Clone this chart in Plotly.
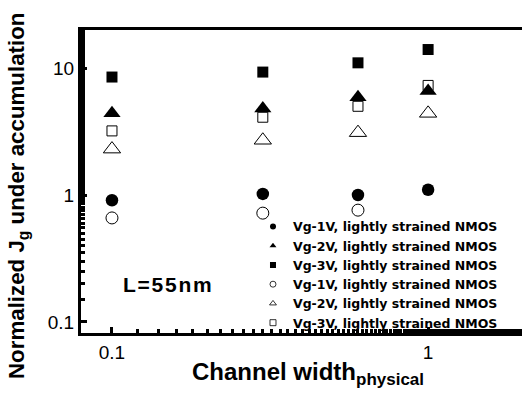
import plotly.graph_objects as go

widths = [0.1, 0.3, 0.6, 1.0]
vg1_filled = [0.91, 1.02, 1.0, 1.1]
vg2_filled = [4.4, 4.8, 5.9, 6.6]
vg3_filled = [8.5, 9.3, 11.0, 14.0]
vg1_open = [0.66, 0.72, 0.76]
vg2_open = [2.3, 2.7, 3.1, 4.4]
vg3_open = [3.2, 4.1, 5.0, 7.3]

labels = ["Vg-1V, lightly strained NMOS", "Vg-2V, lightly strained NMOS",
          "Vg-3V, lightly strained NMOS", "Vg-1V, lightly strained NMOS",
          "Vg-2V, lightly strained NMOS", "Vg-3V, lightly strained NMOS"]

series = [
    (vg1_filled, "circle", 12.5, True),
    (vg2_filled, "triangle-up", 15, True),
    (vg3_filled, "square", 11, True),
    (vg1_open, "circle-open", 12, False),
    (vg2_open, "triangle-up-open", 15, False),
    (vg3_open, "square-open", 10, False),
]

fig = go.Figure()
for (vals, sym, size, filled), lab in zip(series, labels):
    fig.add_trace(go.Scatter(
        x=widths[:len(vals)], y=vals, mode="markers", showlegend=False,
        marker=dict(symbol=sym, size=size, color="black",
                    line=dict(color="black", width=1 if not filled else 0))))
for (vals, sym, size, filled), lab in zip(series, labels):
    fig.add_trace(go.Scatter(
        x=[None], y=[None], mode="markers", name=lab,
        marker=dict(symbol=sym, size=6, color="black",
                    line=dict(color="black", width=0.8 if not filled else 0))))

hs = "\u200a"
fig.add_annotation(text=hs.join("L=55nm"), x=0.09, y=0.16, xref="paper", yref="paper",
                   xanchor="left", yanchor="middle", showarrow=False,
                   font=dict(family="Liberation Sans", size=21, color="black", weight="bold"))
fig.add_annotation(text="Normalized J<sub>g</sub> under accumulation", x=-0.143, y=0.452,
                   xref="paper", yref="paper", textangle=-90, showarrow=False,
                   xanchor="center", yanchor="middle",
                   font=dict(family="Liberation Sans", size=22.3, color="black", weight="bold"))
fig.add_annotation(text="Channel width<sub><span style='font-size:17px'>physical</span></sub>",
                   x=0.515, y=-0.135,
                   xref="paper", yref="paper", showarrow=False,
                   xanchor="center", yanchor="middle",
                   font=dict(family="Liberation Sans", size=24, color="black", weight="bold"))

axis_common = dict(showline=True, linecolor="black", linewidth=3, showgrid=False,
                   zeroline=False, ticks="inside", ticklen=6, tickwidth=2.5,
                   tickcolor="black",
                   tickfont=dict(family="Liberation Sans", size=19, color="black"),
                   minor=dict(ticks="inside", ticklen=4, tickwidth=2.5, tickcolor="black"))

fig.update_xaxes(type="log", range=[-1.098, 0.297], tickvals=[0.1, 1],
                 ticktext=["0.1", "1"], mirror=True, **axis_common)
fig.update_yaxes(type="log", range=[-1.087, 1.30], tickvals=[0.1, 1, 10],
                 ticktext=["0.1", "1", "10"], **axis_common)

fig.update_layout(
    width=522, height=394, margin=dict(l=81, r=0, t=30, b=61),
    plot_bgcolor="white", paper_bgcolor="white",
    legend=dict(x=0.39, y=0.40, xanchor="left", yanchor="top",
                bgcolor="rgba(0,0,0,0)", borderwidth=0, tracegroupgap=0,
                font=dict(family="DejaVu Sans", size=12.5, color="black", weight="bold")),
)
fig.write_html("out.html")
